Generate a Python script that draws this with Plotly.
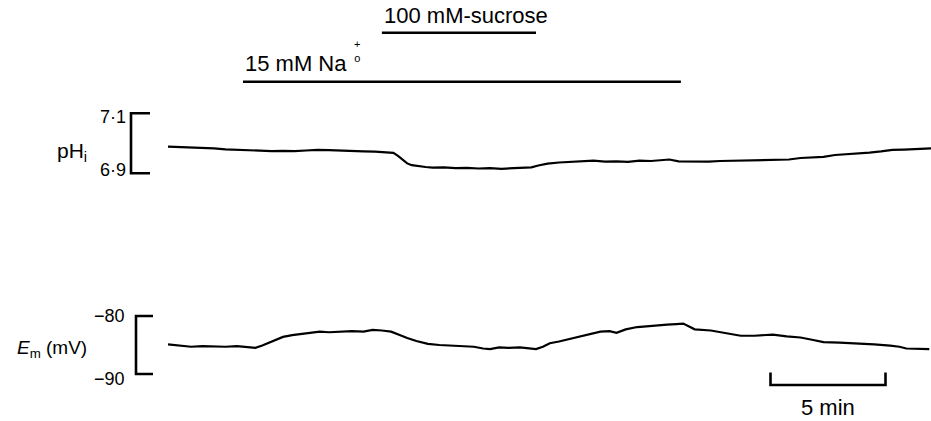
import plotly.graph_objects as go

# ---------------- data (time in min from start of record) ----------------
ph_time = [0, 0.5, 1.0, 1.5, 2.0, 2.5, 3.0, 3.5, 4.0, 4.5, 5.0, 5.5, 6.0, 6.5, 7.0, 7.5,
           8.0, 8.5, 9.0, 9.5, 9.8, 10.0, 10.2, 10.4, 10.6, 10.9, 11.2, 11.5, 12.0, 12.5,
           13.0, 13.5, 14.0, 14.5, 15.0, 15.5, 15.8, 16.1, 16.5, 17.0, 17.5, 18.0, 18.5,
           19.0, 19.5, 20.0, 20.5, 21.0, 21.5, 21.8, 22.2, 22.6, 23.0, 23.5, 24.0, 24.5,
           25.0, 25.5, 26.0, 26.5, 27.0, 27.5, 28.0, 28.5, 29.0, 29.5, 30.0, 30.5, 31.0,
           31.5, 32.0, 32.5, 33.0, 33.2]
ph_values = [6.989, 6.988, 6.986, 6.985, 6.983, 6.980, 6.978, 6.976, 6.975, 6.974, 6.975,
             6.974, 6.976, 6.978, 6.977, 6.975, 6.974, 6.973, 6.972, 6.971, 6.968, 6.958,
             6.944, 6.933, 6.927, 6.923, 6.921, 6.919, 6.920, 6.917, 6.918, 6.916, 6.917,
             6.915, 6.917, 6.918, 6.920, 6.926, 6.932, 6.936, 6.938, 6.939, 6.942, 6.939,
             6.940, 6.938, 6.942, 6.941, 6.944, 6.946, 6.940, 6.939, 6.940, 6.939, 6.941,
             6.942, 6.943, 6.944, 6.944, 6.947, 6.946, 6.951, 6.953, 6.955, 6.961, 6.963,
             6.966, 6.969, 6.973, 6.978, 6.979, 6.981, 6.983, 6.983]

em_time = [0, 0.5, 1.0, 1.5, 2.0, 2.5, 3.0, 3.5, 3.8, 4.1, 4.4, 4.7, 5.0, 5.4, 5.8, 6.2,
           6.6, 7.0, 7.5, 8.0, 8.5, 8.9, 9.3, 9.7, 10.1, 10.4, 10.8, 11.3, 11.8, 12.3,
           12.8, 13.3, 13.7, 14.0, 14.4, 14.8, 15.3, 15.7, 16.0, 16.3, 16.6, 17.0, 17.6,
           18.2, 18.8, 19.2, 19.5, 19.9, 20.4, 20.8, 21.3, 21.7, 22.1, 22.4, 22.7, 22.9,
           23.6, 24.2, 24.9, 25.5, 26.3, 26.9, 27.5, 28.0, 28.5, 29.2, 30.0, 30.7, 31.4,
           31.8, 32.1, 32.6, 33.1]
em_values = [-84.9, -85.1, -85.3, -85.2, -85.3, -85.3, -85.2, -85.4, -85.5, -85.1, -84.6,
             -84.1, -83.6, -83.3, -83.1, -82.9, -82.7, -82.8, -82.7, -82.6, -82.7, -82.4,
             -82.5, -82.7, -83.3, -83.8, -84.3, -84.8, -85.0, -85.1, -85.2, -85.3, -85.6,
             -85.7, -85.4, -85.5, -85.4, -85.6, -85.7, -85.3, -84.7, -84.4, -83.8, -83.2,
             -82.7, -82.6, -82.9, -82.3, -81.9, -81.8, -81.7, -81.5, -81.4, -81.3, -81.9,
             -82.3, -82.5, -82.9, -83.4, -83.4, -83.2, -83.5, -83.7, -84.1, -84.5, -84.6,
             -84.7, -84.9, -85.1, -85.3, -85.6, -85.7, -85.7]

# treatment periods (min)
treat_labels = ["100 mM-sucrose", "15 mM Na"]
treat_start = [9.3, 3.26]
treat_end = [16.0, 22.3]

# calibration bars
ph_scale = [6.9, 7.1]
ph_scale_labels = ["6·9", "7·1"]
em_scale = [-90, -80]
em_scale_labels = ["\u221290", "\u221280"]
time_scale_min = 5
time_scale_label = "5 min"

# ---------------- layout helpers ----------------
W, H = 931, 421
FONT = "Liberation Sans, Arial, Helvetica, sans-serif"
X_RANGE = [-7.304, 33.174]
PH_RANGE = [6.0743, 7.4777]
EM_RANGE = [-98.10, -25.52]


def px_x(p):
    # pixel x -> minutes (only for placing text / calibration bars)
    return X_RANGE[0] + p / W * (X_RANGE[1] - X_RANGE[0])


def py(p):
    return 1 - p / H


fig = go.Figure()
fig.add_trace(go.Scatter(x=ph_time, y=ph_values, mode="lines",
                         line=dict(color="black", width=2.2), yaxis="y", showlegend=False))
fig.add_trace(go.Scatter(x=em_time, y=em_values, mode="lines",
                         line=dict(color="black", width=2.2), yaxis="y2", showlegend=False))

shapes = []
ann = []
LW = 2.6

# treatment bars
treat_y = [py(32.7), py(81.7)]
treat_text_y = [py(15.5), py(63.5)]
for lab, s, e, yb, yt in zip(treat_labels, treat_start, treat_end, treat_y, treat_text_y):
    shapes.append(dict(type="line", xref="x", yref="paper", x0=s, x1=e, y0=yb, y1=yb,
                       line=dict(color="black", width=LW)))
    ann.append(dict(text=lab, xref="x", yref="paper", x=s, y=yt, xanchor="left",
                    yanchor="middle", showarrow=False,
                    font=dict(family=FONT, size=22, color="black")))
# stacked + / o on Na (one text block)
ann.append(dict(text="+<br>o", xref="x", yref="paper", x=px_x(357), y=py(51),
                xanchor="center", yanchor="middle", align="center", showarrow=False,
                borderpad=0, font=dict(family=FONT, size=11, color="black")))

# pH calibration bracket
xb, xt = px_x(131), px_x(150)
shapes.append(dict(type="path", xref="x", yref="y",
                   path=f"M {xt} {ph_scale[1]} L {xb} {ph_scale[1]} L {xb} {ph_scale[0]} L {xt} {ph_scale[0]}",
                   line=dict(color="black", width=LW)))
for v, lab in zip(ph_scale, ph_scale_labels):
    ann.append(dict(text=lab, xref="x", yref="y", x=px_x(128), y=v, xanchor="right",
                    yanchor="middle", yshift=-4 if v > 7 else 3, showarrow=False,
                    font=dict(family=FONT, size=18, color="black")))
ann.append(dict(text="pH<sub>i</sub>", xref="x", yref="paper", x=px_x(89), y=py(152),
                xanchor="right", yanchor="middle", showarrow=False,
                font=dict(family=FONT, size=21, color="black")))

# Em calibration bracket
xb, xt = px_x(136), px_x(153)
shapes.append(dict(type="path", xref="x", yref="y2",
                   path=f"M {xt} {em_scale[1]} L {xb} {em_scale[1]} L {xb} {em_scale[0]} L {xt} {em_scale[0]}",
                   line=dict(color="black", width=LW)))
for v, lab in zip(em_scale, em_scale_labels):
    ann.append(dict(text=lab, xref="x", yref="y2", x=px_x(127), y=v, xanchor="right",
                    yanchor="middle", yshift=0 if v > -85 else -5, showarrow=False,
                    font=dict(family=FONT, size=18, color="black")))
ann.append(dict(text="<i>E</i><sub>m</sub> (mV)", xref="x", yref="paper", x=px_x(89), y=py(349),
                xanchor="right", yanchor="middle", showarrow=False,
                font=dict(family=FONT, size=19, color="black")))

# time calibration bar
t0 = px_x(770.5)
t1 = t0 + time_scale_min
yl, yh = py(385), py(372.5)
shapes.append(dict(type="path", xref="x", yref="paper",
                   path=f"M {t0} {yh} L {t0} {yl} L {t1} {yl} L {t1} {yh}",
                   line=dict(color="black", width=LW)))
ann.append(dict(text=time_scale_label, xref="x", yref="paper", x=(t0 + t1) / 2, y=py(407),
                xanchor="center", yanchor="middle", showarrow=False,
                font=dict(family=FONT, size=22, color="black")))

fig.update_layout(
    width=W, height=H,
    margin=dict(l=0, r=0, t=0, b=0, pad=0),
    paper_bgcolor="white", plot_bgcolor="white",
    xaxis=dict(range=X_RANGE, visible=False, fixedrange=True),
    yaxis=dict(range=PH_RANGE, visible=False, domain=[0, 1], fixedrange=True),
    yaxis2=dict(range=EM_RANGE, visible=False, overlaying="y", fixedrange=True),
    shapes=shapes, annotations=ann, showlegend=False,
)

fig.write_html(
    "out.html",
    config={"displayModeBar": False},
    post_script="document.body.style.margin='0';document.body.style.overflow='hidden';",
)
